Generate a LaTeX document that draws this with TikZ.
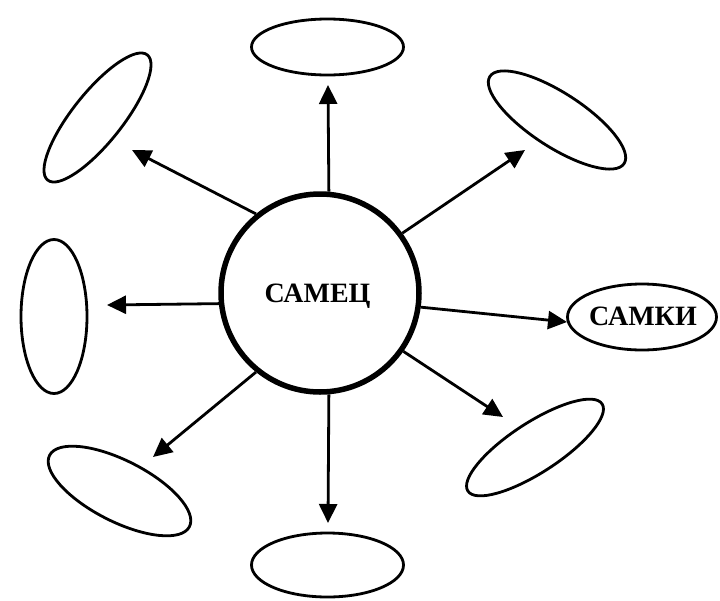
\documentclass[tikz,border=0pt]{standalone}
\usepackage{fontspec}
\setmainfont{Liberation Serif}
\usetikzlibrary{shapes.geometric,arrows.meta}
\begin{document}
\begin{tikzpicture}[x=1pt,y=-1pt,
  oval/.style={draw,shape=ellipse,line width=2.8pt,inner sep=0pt},
  hub/.style={draw,circle,line width=5.5pt,minimum size=198pt,inner sep=0pt},
  arr/.style={line width=2.8pt,-{Triangle[length=19pt,width=18pt]}},
  lbl/.style={font=\fontsize{28}{30}\selectfont\bfseries}]
\useasboundingbox (0,0) rectangle (720,600);
\node[hub] (c) at (320,293) {};
\node[lbl] at (317.5,296) {САМЕЦ};
\node[oval,minimum width=152pt,minimum height=56pt] (etop) at (327.5,47) {};
\node[oval,minimum width=160pt,minimum height=54pt,rotate=-33] (etr) at (557,120) {};
\node[oval,minimum width=160pt,minimum height=50pt,rotate=51.5] (etl) at (97.5,117.5) {};
\node[oval,minimum width=154pt,minimum height=66pt,rotate=90] (el) at (54,316.5) {};
\node[oval,minimum width=157pt,minimum height=61pt,rotate=-27] (ebl) at (119.5,491) {};
\node[oval,minimum width=152pt,minimum height=64pt] (eb) at (327.5,565) {};
\node[oval,minimum width=160pt,minimum height=50pt,rotate=33] (ebr) at (535,447.5) {};
\node[oval,minimum width=149pt,minimum height=66pt] (er) at (642,317) {};
\node[lbl] at (643,316) {САМКИ};
\coordinate (ttop) at (328,85);
\coordinate (ttr) at (525,150);
\coordinate (tr) at (567,322);
\coordinate (tbr) at (503,417);
\coordinate (tb) at (328,523);
\coordinate (tbl) at (153,457);
\coordinate (tl) at (107,305);
\coordinate (ttl) at (132,150);
\draw[arr] (c.85.6) -- (ttop);
\draw[arr] (c.36.6) -- (ttr);
\draw[arr] (c.-8) -- (tr);
\draw[arr] (c.-35.9) -- (tbr);
\draw[arr] (c.-85.5) -- (tb);
\draw[arr] (c.-129) -- (tbl);
\draw[arr] (c.186.5) -- (tl);
\draw[arr] (c.129.6) -- (ttl);
\end{tikzpicture}
\end{document}
